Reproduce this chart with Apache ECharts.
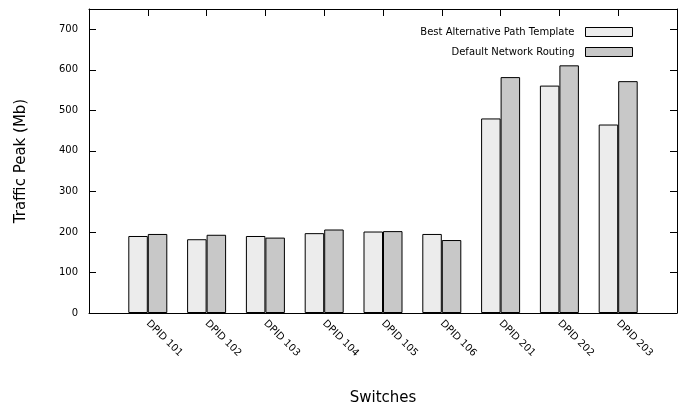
<!DOCTYPE html>
<html lang="en">
<head>
    <meta charset="utf-8">
    <title>Traffic Peak per Switch</title>
    <script src="https://cdn.jsdelivr.net/npm/echarts@6/dist/echarts.min.js"></script>
</head>
<body style="margin:0">
    <div id="main" style="width:687px;height:406px;"></div>

    <script type="text/javascript">
    // blank slots at both ends, like the gnuplot x range
    var switches = ['', 'DPID 101', 'DPID 102', 'DPID 103', 'DPID 104', 'DPID 105',
                    'DPID 106', 'DPID 201', 'DPID 202', 'DPID 203', ''];
    var bestAltPath = ['-', 190, 182, 190, 197, 201, 195, 480, 561, 465, '-'];
    var defaultRouting = ['-', 195, 193, 186, 206, 202, 180, 582, 611, 572, '-'];
    var yTicks = [0, 100, 200, 300, 400, 500, 600, 700];

    var myChart = echarts.init(document.getElementById('main'));
    var font = 'DejaVu Sans';

    // fresh objects for each axis, ticks point into the plot
    function tick() {
        return { show: true, inside: true, length: 7, interval: 0, lineStyle: { color: '#000', width: 1 } };
    }
    function line() {
        return { show: true, onZero: false, lineStyle: { color: '#000', width: 1 } };
    }

    myChart.setOption({
        animation: false,
        textStyle: { fontFamily: font },
        grid: { left: 89, right: 10, top: 9, bottom: 93, outerBoundsMode: 'none', containLabel: false },
        legend: {
            orient: 'vertical',
            right: 49,
            top: 22,
            align: 'right',
            icon: 'rect',
            itemWidth: 47,
            itemHeight: 9,
            itemGap: 10,
            textStyle: { fontFamily: font, fontSize: 10, color: '#000', padding: [0, 6, 0, 0] },
            itemStyle: { borderColor: '#000', borderWidth: 1 },
            data: ['Best Alternative Path Template', 'Default Network Routing']
        },
        xAxis: [{
            type: 'category',
            data: switches,
            boundaryGap: false,
            axisLine: line(),
            axisTick: { show: false },
            axisLabel: {
                rotate: -45, margin: 9, fontSize: 10, color: '#000',
                fontFamily: font, interval: 0
            },
            name: 'Switches',
            nameLocation: 'middle',
            nameGap: 78,
            nameTextStyle: { fontFamily: font, fontSize: 15, color: '#000' }
        }, {
            type: 'category',
            data: switches,
            boundaryGap: false,
            position: 'top',
            axisLine: line(),
            axisTick: tick(),
            axisLabel: { show: false, interval: 0 }
        }],
        yAxis: [{
            type: 'value',
            min: 0, max: 750, interval: 100,
            axisLine: line(),
            axisTick: tick(),
            splitLine: { show: false },
            axisLabel: {
                fontSize: 10, color: '#000', fontFamily: font, margin: 11,
                showMaxLabel: false,
                formatter: function (v) { return yTicks.indexOf(v) >= 0 ? v : ''; }
            },
            name: 'Traffic Peak (Mb)',
            nameLocation: 'middle',
            nameRotate: 90,
            nameGap: 60,
            nameTextStyle: { fontFamily: font, fontSize: 15, color: '#000' }
        }, {
            type: 'value',
            position: 'right',
            min: 0, max: 750, interval: 100,
            axisLine: line(),
            axisTick: tick(),
            splitLine: { show: false },
            axisLabel: { show: false }
        }],
        series: [{
            name: 'Best Alternative Path Template',
            type: 'bar',
            data: bestAltPath,
            barWidth: 19.5,
            barGap: '0%',
            itemStyle: { color: '#ececec', borderColor: '#000', borderWidth: 1 }
        }, {
            name: 'Default Network Routing',
            type: 'bar',
            data: defaultRouting,
            barWidth: 19.5,
            barGap: '0%',
            itemStyle: { color: '#c8c8c8', borderColor: '#000', borderWidth: 1 }
        }]
    });
    </script>
</body>
</html>
